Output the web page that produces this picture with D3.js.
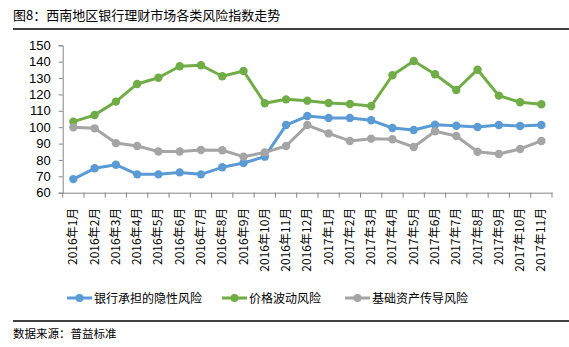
<!DOCTYPE html>
<html><head><meta charset="utf-8">
<script src="https://cdn.jsdelivr.net/npm/d3@7/dist/d3.min.js"></script>
<style>
body{margin:0;background:#fff;}
svg{display:block;font-family:"Liberation Sans",Arial,sans-serif;}
</style></head>
<body>
<svg id="c" width="569" height="347"></svg>
<script>
const categories = ["2016年1月","2016年2月","2016年3月","2016年4月","2016年5月","2016年6月","2016年7月","2016年8月","2016年9月","2016年10月","2016年11月","2016年12月","2017年1月","2017年2月","2017年3月","2017年4月","2017年5月","2017年6月","2017年7月","2017年8月","2017年9月","2017年10月","2017年11月"];
const bankRisk = [68.3,74.9,77.1,71.2,71.2,72.4,71.2,75.5,78.1,82.0,101.3,106.8,105.6,105.6,104.2,99.5,98.3,101.5,100.9,100.1,101.3,100.7,101.3];
const priceRisk = [103.4,107.4,115.6,126.4,130.2,137.2,137.8,131.1,134.3,114.6,117.0,116.2,114.8,114.2,112.9,131.7,140.4,132.3,122.7,135.1,119.3,115.2,114.0];
const assetRisk = [99.9,99.3,90.3,88.5,85.2,85.2,86.1,85.9,82.0,84.6,88.5,101.3,96.2,91.6,93.0,92.6,87.9,97.5,94.6,85.0,83.6,86.7,91.6];
const seriesNames = ["银行承担的隐性风险","价格波动风险","基础资产传导风险"];
const yTicks = [60,70,80,90,100,110,120,130,140,150];
const colors = ["#5B9BD5","#70AD47","#A5A5A5"];

const svg = d3.select("#c");
const mLeft = 62.7, mRight = 552, mTop = 45.3, mBottom = 192.7;
const x = d3.scaleBand().domain(categories).range([mLeft, mRight]);
const y = d3.scaleLinear().domain([60,150]).range([mBottom, mTop]);

// title
svg.append("text").attr("x",13).attr("y",20).attr("font-size",13)
  .attr("font-family","'Noto Sans CJK SC',sans-serif").attr("fill","#000")
  .text("图8：西南地区银行理财市场各类风险指数走势");
svg.append("line").attr("x1",13).attr("x2",569).attr("y1",29).attr("y2",29)
  .attr("stroke","#000").attr("stroke-width",1.3);

// y axis
const ya = svg.append("g").attr("transform",`translate(${mLeft},0)`)
  .call(d3.axisLeft(y).tickValues(yTicks).tickSize(4).tickPadding(8));
ya.select(".domain").attr("stroke","#868686");
ya.selectAll(".tick line").attr("stroke","#868686");
ya.selectAll("text").attr("font-size",13).attr("fill","#000").attr("font-family","'Liberation Sans',Arial,sans-serif");

// x axis
const xa = svg.append("g").attr("transform",`translate(0,${mBottom})`)
  .call(d3.axisBottom(x).tickSizeOuter(0).tickSize(0).tickFormat(""));
xa.select(".domain").attr("stroke","#868686");
xa.selectAll(".tick").remove();
const edges = categories.map(c=>x(c)).concat([mRight]);
svg.append("g").selectAll("line").data(edges).join("line")
  .attr("x1",d=>d).attr("x2",d=>d).attr("y1",mBottom).attr("y2",mBottom+5)
  .attr("stroke","#868686");

svg.append("g").selectAll("text").data(categories).join("text")
  .attr("transform",d=>`translate(${x(d)+x.bandwidth()/2+4},${mBottom+15}) rotate(-90)`)
  .attr("text-anchor","end").attr("font-size",12)
  .attr("font-family","'Noto Sans CJK SC',sans-serif").attr("fill","#000")
  .text(d=>d);

// lines
const allSeries = [bankRisk, priceRisk, assetRisk];
const line = d3.line().x((d,i)=>x(categories[i])+x.bandwidth()/2).y(d=>y(d));
allSeries.forEach((s,k)=>{
  svg.append("path").datum(s).attr("d",line).attr("fill","none")
    .attr("stroke",colors[k]).attr("stroke-width",3).attr("stroke-linejoin","round");
  svg.append("g").selectAll("circle").data(s).join("circle")
    .attr("cx",(d,i)=>x(categories[i])+x.bandwidth()/2).attr("cy",d=>y(d))
    .attr("r",4.2).attr("fill",colors[k]);
});

// legend
const legX = [67,222,345];
seriesNames.forEach((n,k)=>{
  const g = svg.append("g").attr("transform",`translate(${legX[k]},298)`);
  g.append("line").attr("x1",0).attr("x2",25).attr("stroke",colors[k]).attr("stroke-width",3);
  g.append("circle").attr("cx",12.5).attr("r",4).attr("fill",colors[k]);
  g.append("text").attr("x",27).attr("y",4.5).attr("font-size",12)
    .attr("font-family","'Noto Sans CJK SC',sans-serif").attr("fill","#000").text(n);
});

svg.append("line").attr("x1",13).attr("x2",569).attr("y1",321).attr("y2",321)
  .attr("stroke","#000").attr("stroke-width",1.3);
svg.append("text").attr("x",13).attr("y",338).attr("font-size",11.5)
  .attr("font-family","'Noto Sans CJK SC',sans-serif").attr("fill","#000")
  .text("数据来源：普益标准");
</script>
</body></html>
